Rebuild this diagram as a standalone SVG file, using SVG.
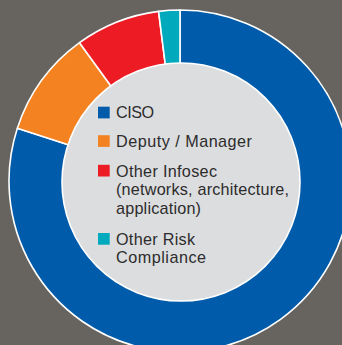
<svg xmlns="http://www.w3.org/2000/svg" width="342" height="345" viewBox="0 0 342 345">
  <style>
    .seg { stroke: #ffffff; stroke-width: 1.6; stroke-linejoin: round; }
    .lbl { font-family: "Liberation Sans", Arial, sans-serif; font-size: 16.2px; fill: #2d2c2c; }
  </style>
  <rect x="0" y="0" width="342" height="345" fill="#67635f"/>
  <g id="donut">
    <path id="seg-ciso" class="seg" fill="#005cab" d="M180,181 L180,10 A171,171 0 1 1 17.37,128.16 Z"/>
    <path id="seg-deputy" class="seg" fill="#f58220" d="M180,181 L17.37,128.16 A171,171 0 0 1 79.49,42.66 Z"/>
    <path id="seg-infosec" class="seg" fill="#ed1c24" d="M180,181 L79.49,42.66 A171,171 0 0 1 158.57,11.35 Z"/>
    <path id="seg-risk" class="seg" fill="#00a9bb" d="M180,181 L158.57,11.35 A171,171 0 0 1 180,10 Z"/>
    <circle id="hole" cx="181" cy="182" r="119" fill="#dcdddf" stroke="#ffffff" stroke-width="1.6"/>
  </g>
  <g id="legend-ciso">
    <rect x="98" y="106.7" width="11.7" height="11.7" fill="#005cab"/>
    <text class="lbl" x="116" y="118.3" textLength="38" lengthAdjust="spacing">CISO</text>
  </g>
  <g id="legend-deputy">
    <rect x="98" y="135.2" width="11.7" height="11.7" fill="#f58220"/>
    <text class="lbl" x="116" y="146.7" textLength="136" lengthAdjust="spacing">Deputy / Manager</text>
  </g>
  <g id="legend-infosec">
    <rect x="98" y="164.8" width="11.7" height="11.7" fill="#ed1c24"/>
    <text class="lbl" x="116" y="176.5" textLength="101" lengthAdjust="spacing">Other Infosec</text>
    <text class="lbl" x="116" y="195.2" textLength="173" lengthAdjust="spacing">(networks, architecture,</text>
    <text class="lbl" x="116" y="213.8" textLength="85" lengthAdjust="spacing">application)</text>
  </g>
  <g id="legend-risk">
    <rect x="98" y="233" width="11.7" height="11.7" fill="#00a9bb"/>
    <text class="lbl" x="116" y="244.7" textLength="79" lengthAdjust="spacing">Other Risk</text>
    <text class="lbl" x="116" y="263.3" textLength="90" lengthAdjust="spacing">Compliance</text>
  </g>
</svg>
